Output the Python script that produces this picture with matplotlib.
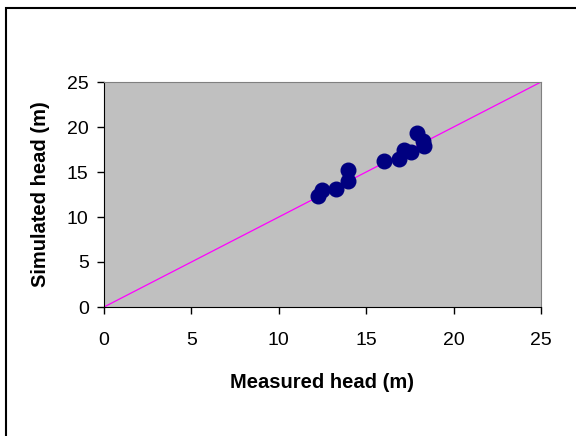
import numpy as np
import matplotlib
matplotlib.use("Agg")
from matplotlib import pyplot as plt
from matplotlib.patches import Rectangle

plt.rcParams['font.family'] = ['Liberation Sans', 'DejaVu Sans']

# measured vs simulated head (m)
measured = [12.26, 12.45, 13.25, 13.94, 13.94, 16.0, 16.9, 17.16, 17.54, 17.93, 18.27, 18.3]
simulated = [12.33, 13.0, 13.08, 14.03, 15.22, 16.2, 16.5, 17.5, 17.2, 19.3, 18.4, 17.9]
line_x = [0, 25]
line_y = [0, 25]
ticks = [0, 5, 10, 15, 20, 25]

fig = plt.figure(figsize=(5.76, 4.36), dpi=100)
fig.patches.append(Rectangle((6/576, -0.1), 1.2, 1 - 8/436 + 0.1, transform=fig.transFigure,
                             fill=False, edgecolor="black", linewidth=1.5))
ax = fig.add_axes([104/576, 129/436, 437/576, 225/436])
ax.set_facecolor("#c0c0c0")
ax.plot(line_x, line_y, color="#ff00ff", lw=0.9, zorder=2)
ax.plot(measured, simulated, "o", color="#000080", markersize=10.5, zorder=3)

ax.set_xlim(0, 25)
ax.set_ylim(0, 25)
ax.set_xticks(ticks)
ax.set_yticks(ticks)
ax.tick_params(labelsize=14, direction="out", length=5, width=1)
ax.tick_params(axis="x", pad=13)
ax.tick_params(axis="y", pad=6)
for s in ["top", "right"]:
    ax.spines[s].set_color("#808080")
ax.set_xlabel("Measured head (m)", fontsize=14.5, fontweight="bold", labelpad=17)
ax.set_ylabel("Simulated head (m)", fontsize=14.5, fontweight="bold", labelpad=12)

plt.savefig("out.png", dpi=100)
